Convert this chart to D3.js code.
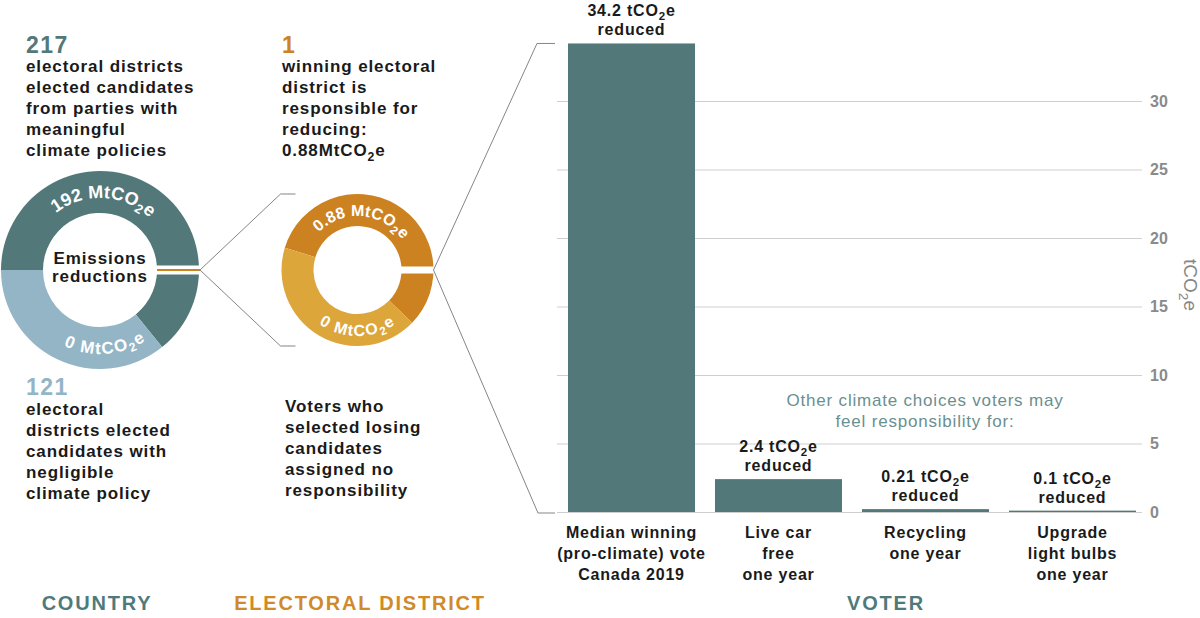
<!DOCTYPE html>
<html lang="en">
<head>
<meta charset="utf-8">
<title>Climate responsibility</title>
<script src="https://cdn.jsdelivr.net/npm/d3@7"></script>
<style>
  body { margin: 0; background: #fff; }
  svg { font-family: "Liberation Sans", Arial, sans-serif; }
  .body-text { font-size: 17px; font-weight: bold; letter-spacing: 0.9px; fill: #1a1a1a; }
  .big-num { font-size: 23px; font-weight: bold; letter-spacing: 1.5px; }
  .section { font-size: 20px; font-weight: bold; letter-spacing: 1.8px; text-anchor: middle; }
  .grid line { stroke: #cfcfcf; stroke-width: 1; }
  .grid path { display: none; }
  .grid text { fill: #8a8a8a; font-size: 16px; font-weight: bold; font-family: "Liberation Sans", Arial, sans-serif; }
  .ring-label { fill: #fff; font-weight: bold; }
  .bar-label { font-size: 16px; font-weight: bold; letter-spacing: 0.8px; text-anchor: middle; fill: #1a1a1a; }
</style>
</head>
<body>
<script>
// ---- data ----
var countryDistricts = [217, 121];           // pro-climate, negligible
var districtVoteShare = [57.5, 42.5];        // winning, losing (%)
var barCategories = [
  ["Median winning", "(pro-climate) vote", "Canada 2019"],
  ["Live car", "free", "one year"],
  ["Recycling", "one year"],
  ["Upgrade", "light bulbs", "one year"]
];
var barValues = [34.2, 2.4, 0.21, 0.1];
var barValueText = ["34.2", "2.4", "0.21", "0.1"];
var yTicks = [0, 5, 10, 15, 20, 25, 30];

var countryText = ["electoral districts", "elected candidates", "from parties with", "meaningful", "climate policies"];
var negligibleText = ["electoral", "districts elected", "candidates with", "negligible", "climate policy"];
var districtText = ["winning electoral", "district is", "responsible for", "reducing:", "0.88MtCO_2e"];
var losingText = ["Voters who", "selected losing", "candidates", "assigned no", "responsibility"];
var otherText = ["Other climate choices voters may", "feel responsibility for:"];

// ---- colours ----
var teal = "#537879", lightBlue = "#93b5c6", orange = "#cd8222", lightOrange = "#dca63b";

var W = 1200, H = 618;
var svg = d3.select("body").append("svg").attr("width", W).attr("height", H);
var defs = svg.append("defs");

// text with "_x" marking a subscript char
function rich(sel, str, shift) {
  var parts = str.split("_");
  sel.append("tspan").text(parts[0]);
  for (var i = 1; i < parts.length; i++) {
    sel.append("tspan").attr("dy", shift).attr("font-size", "0.72em").text(parts[i][0]);
    sel.append("tspan").attr("dy", -shift).text(parts[i].slice(1));
  }
}

function block(arr, x, y0, lh, cls, anchor) {
  arr.forEach(function(s, i) {
    var t = svg.append("text").attr("class", cls).attr("x", x).attr("y", y0 + i * lh)
      .attr("text-anchor", anchor || "start");
    rich(t, s, 5);
  });
}

function pt(cx, cy, r, a) { return [cx + r * Math.sin(a), cy - r * Math.cos(a)]; }
var rad = Math.PI / 180;

function ringText(id, cx, cy, r, centerDeg, top, str, size, ls) {
  var a0, a1, p0, p1, d;
  if (top) {
    a0 = (centerDeg - 90) * rad; a1 = (centerDeg + 90) * rad;
    p0 = pt(cx, cy, r, a0); p1 = pt(cx, cy, r, a1);
    d = "M" + p0 + " A" + r + "," + r + " 0 0 1 " + p1;
  } else {
    a0 = (centerDeg + 90) * rad; a1 = (centerDeg - 90) * rad;
    p0 = pt(cx, cy, r, a0); p1 = pt(cx, cy, r, a1);
    d = "M" + p0 + " A" + r + "," + r + " 0 0 0 " + p1;
  }
  defs.append("path").attr("id", id).attr("d", d);
  var t = svg.append("text").attr("class", "ring-label").attr("font-size", size)
    .attr("letter-spacing", ls)
    .append("textPath").attr("href", "#" + id).attr("startOffset", "50%").attr("text-anchor", "middle");
  rich(t, str, 4);
}

// ---- country donut ----
var c1 = {x: 100, y: 270, rIn: 57, rOut: 99};
var pie1 = d3.pie().sort(null).startAngle(-Math.PI / 2).endAngle(1.5 * Math.PI);
var arc1 = d3.arc().innerRadius(c1.rIn).outerRadius(c1.rOut);
svg.append("g").attr("transform", "translate(" + c1.x + "," + c1.y + ")")
  .selectAll("path").data(pie1(countryDistricts)).join("path")
  .attr("d", arc1).attr("fill", function(d, i) { return i === 0 ? teal : lightBlue; });
// gap holding the one winning district
svg.append("rect").attr("x", c1.x + c1.rIn - 2).attr("y", c1.y - 4.5)
  .attr("width", c1.rOut - c1.rIn + 4).attr("height", 9).attr("fill", "#fff");
svg.append("line").attr("x1", c1.x + c1.rIn).attr("x2", c1.x + c1.rOut + 1)
  .attr("y1", c1.y).attr("y2", c1.y).attr("stroke", orange).attr("stroke-width", 2);

ringText("t1", c1.x, c1.y, 72, 3, true, "192 MtCO_2e", 18, 0.2);
ringText("b1", c1.x, c1.y, 84, 176, false, "0 MtCO_2e", 17, 1.4);
svg.append("text").attr("class", "body-text").attr("font-size", 15).attr("letter-spacing", 0.7)
  .attr("text-anchor", "middle").attr("x", c1.x).attr("y", 264).text("Emissions");
svg.append("text").attr("class", "body-text").attr("font-size", 15).attr("letter-spacing", 0.7)
  .attr("text-anchor", "middle").attr("x", c1.x).attr("y", 282).text("reductions");

// ---- district donut ----
var c2 = {x: 357.5, y: 270, rIn: 44, rOut: 76};
var pie2 = d3.pie().sort(null).startAngle(-73 * rad).endAngle(287 * rad);
var arc2 = d3.arc().innerRadius(c2.rIn).outerRadius(c2.rOut);
svg.append("g").attr("transform", "translate(" + c2.x + "," + c2.y + ")")
  .selectAll("path").data(pie2(districtVoteShare)).join("path")
  .attr("d", arc2).attr("fill", function(d, i) { return i === 0 ? orange : lightOrange; });
svg.append("rect").attr("x", c2.x + c2.rIn - 2).attr("y", c2.y - 3.5)
  .attr("width", c2.rOut - c2.rIn + 4).attr("height", 7).attr("fill", "#fff");

ringText("t2", c2.x, c2.y, 54, 5, true, "0.88 MtCO_2e", 16, 0.2);
ringText("b2", c2.x, c2.y, 66, 180, false, "0 MtCO_2e", 16, 1.4);

// ---- bar chart ----
var x = d3.scaleBand().domain(d3.range(barValues.length)).range([568, 1136]).paddingInner(0.136).paddingOuter(0);
var y = d3.scaleLinear().domain([0, 30]).range([512, 101]);

svg.append("g").attr("class", "grid").attr("transform", "translate(1142,0)")
  .call(d3.axisRight(y).tickValues(yTicks).tickSize(-585).tickPadding(8));

svg.append("text").attr("transform", "translate(1184,285) rotate(90)")
  .attr("text-anchor", "middle").attr("fill", "#868686").attr("font-size", 19)
  .call(function(t) { rich(t, "tCO_2e", 5); });

svg.selectAll(".bar").data(barValues).join("rect").attr("class", "bar")
  .attr("x", function(d, i) { return x(i); }).attr("width", x.bandwidth())
  .attr("y", function(d) { return y(d); }).attr("height", function(d) { return y(0) - y(d); })
  .attr("fill", teal);

barValues.forEach(function(v, i) {
  var cx = x(i) + x.bandwidth() / 2;
  var t = svg.append("text").attr("class", "bar-label").attr("x", cx).attr("y", y(v) - 27);
  rich(t, barValueText[i] + " tCO_2e", 4);
  svg.append("text").attr("class", "bar-label").attr("x", cx).attr("y", y(v) - 8).text("reduced");
  barCategories[i].forEach(function(s, j) {
    svg.append("text").attr("class", "bar-label").attr("x", cx).attr("y", y(0) + 26 + j * 21).text(s);
  });
});

otherText.forEach(function(s, i) {
  svg.append("text").attr("x", 925).attr("y", 406 + i * 21).attr("text-anchor", "middle")
    .attr("fill", "#6a8f90").attr("font-size", 17).attr("letter-spacing", 0.8).text(s);
});

// ---- connectors ----
var conn = svg.append("g").attr("fill", "none").attr("stroke", "#858585").attr("stroke-width", 1);
var bx0 = c2.x - c2.rOut - 1, bx1 = bx0 + 15;
conn.append("path").attr("d", "M" + [bx1, c2.y - c2.rOut] + "L" + [bx0, c2.y - c2.rOut] + "L" + [c1.x + c1.rOut + 1, c1.y] +
  "L" + [bx0, c2.y + c2.rOut] + "L" + [bx1, c2.y + c2.rOut]);
conn.append("path").attr("d", "M555," + y(barValues[0]) + "L537," + y(barValues[0]) + "L" + [c2.x + c2.rOut, c2.y] +
  "L538," + (y(0) + 1) + "L555," + (y(0) + 1));

// ---- left texts ----
svg.append("text").attr("class", "big-num").attr("x", 26).attr("y", 53).attr("fill", teal).text(countryDistricts[0]);
block(countryText, 26, 72, 21, "body-text");
svg.append("text").attr("class", "big-num").attr("x", 26).attr("y", 395).attr("fill", lightBlue).text(countryDistricts[1]);
block(negligibleText, 26, 415, 21, "body-text");
svg.append("text").attr("class", "big-num").attr("x", 282).attr("y", 53).attr("fill", orange).text("1");
block(districtText, 282, 72, 21, "body-text");
block(losingText, 285, 412, 21, "body-text");

// ---- section titles ----
svg.append("text").attr("class", "section").attr("x", 97).attr("y", 610).attr("fill", "#4f7a7b").text("COUNTRY");
svg.append("text").attr("class", "section").attr("x", 360).attr("y", 610).attr("fill", "#d08a2a").text("ELECTORAL DISTRICT");
svg.append("text").attr("class", "section").attr("x", 886).attr("y", 610).attr("fill", "#4f7a7b").text("VOTER");
</script>
</body>
</html>
